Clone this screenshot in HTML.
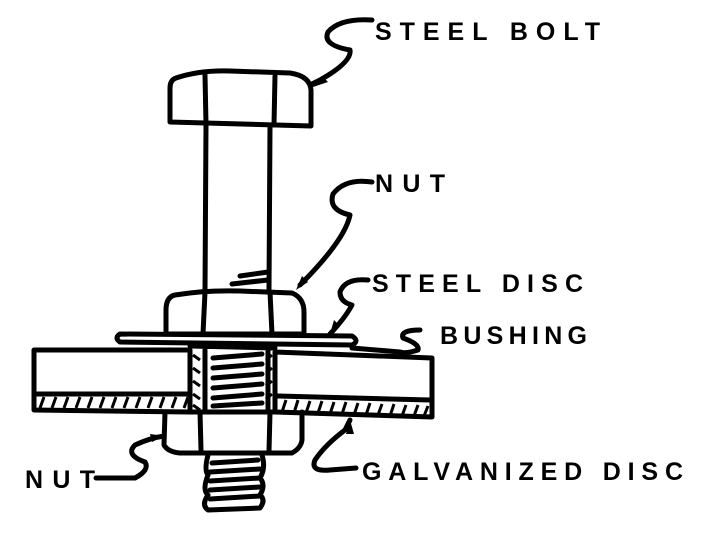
<!DOCTYPE html>
<html><head><style>
html,body{margin:0;padding:0;background:#fff;}
svg{display:block;}
text{font-family:"Liberation Sans",sans-serif;font-weight:bold;font-size:25px;fill:#000;}
</style></head><body>
<svg width="704" height="534" viewBox="0 0 704 534" xmlns="http://www.w3.org/2000/svg">
<g fill="none" stroke="#000" stroke-width="5" stroke-linejoin="round" stroke-linecap="round">
<!-- bolt head -->
<path d="M176,78 Q200,70 230,71 L290,73 Q310,76 311,90 L311,126 L170,122 L170,88 Q170,80 176,78 Z"/>
<path d="M205,75 L206,124 M275,76 L274,125"/>
<!-- shank -->
<path d="M206,125 L205,292 M270,126 L269,290"/>
<path d="M240,276 L268,272 M232,284 L268,280"/>
<!-- upper nut -->
<path d="M175,295 Q205,290 240,291 L292,293 Q304,298 304,312 L304,334 L166,334 L166,310 Q166,297 175,295 Z"/>
<path d="M205,292 L203,334 M270,292 L272,334"/>
<!-- steel disc -->
<path d="M120,334 L352,336 Q360,341 352,345 L120,342 Q114,338 120,334 Z"/>
<!-- plate left -->
<path d="M34,350 L190,350 L190,412 L34,410 Z"/>
<path d="M37,394 L188,394"/>
<!-- plate right -->
<path d="M275,352 L432,358 L432,417 L275,412 Z"/>
<path d="M278,396 L430,400"/>
<!-- bushing -->
<path d="M190,346 L275,348 M190,412 L275,412 M205,350 L205,410 M268,350 L268,410"/>
<path d="M213,358 L262,354 M213,368 L262,364 M213,378 L262,374 M213,388 L262,384 M213,398 L262,394 M213,406 L262,403"/>
<!-- lower nut -->
<path d="M165,412 L164,445 Q168,452 180,453 L292,453 Q301,448 302,440 L302,412"/>
<path d="M200,412 L201,450 M270,412 L269,451"/>
<!-- bolt end -->
<path d="M208,455 Q204,470 208,475 Q202,490 208,495 Q201,505 208,510 L260,508 Q266,500 260,495 Q266,485 260,478 Q266,468 262,455"/>
<path d="M212,463 L258,460 M210,472 L260,469 M210,481 L260,478 M210,490 L260,487 M210,499 L260,496"/>
<!-- leaders -->
<path d="M372,20 Q340,18 328,32 Q322,45 350,50 Q352,62 320,80 L312,84"/>
<path d="M372,182 Q345,178 333,194 Q328,210 350,215 Q345,240 300,285"/>
<path d="M368,280 Q345,278 340,292 Q340,302 352,305 Q345,318 330,334"/>
<path d="M420,330 Q400,330 403,338 Q420,344 418,350 Q405,354 400,352 L352,348"/>
<path d="M96,478 L135,478 Q150,470 145,462 Q125,455 135,445 Q150,438 164,436"/>
<path d="M356,468 L330,470 Q310,472 315,460 Q325,445 345,430 L350,420"/>
</g>
<!-- hatch -->
<g stroke="#000" stroke-width="3">
<path d="M40,408 L44,397 M52,408 L56,397 M64,408 L68,397 M76,408 L80,397 M88,408 L92,397 M100,408 L104,397 M112,408 L116,397 M124,408 L128,397 M136,408 L140,397 M148,408 L152,397 M160,408 L164,397 M172,408 L176,397 M184,408 L188,397"/>
<path d="M282,412 L286,400 M294,413 L298,400 M306,413 L310,401 M318,413 L322,401 M330,414 L334,402 M342,414 L346,402 M354,415 L358,403 M366,415 L370,403 M378,415 L382,404 M390,416 L394,404 M402,416 L406,405 M414,416 L418,405 M424,416 L428,406"/>
<path d="M193,355 L200,360 M193,368 L200,373 M193,381 L200,386 M193,394 L200,399 M193,405 L200,410 M272,355 L266,360 M272,368 L266,373 M272,381 L266,386 M272,394 L266,399"/>
</g>
<g fill="#000">
<polygon points="310,88 322,76 328,82"/>
<polygon points="296,290 302,276 308,282"/>
<polygon points="330,334 334,320 340,326"/>
<polygon points="350,420 346,434 354,434"/>
<polygon points="164,436 150,434 152,442"/>
</g>
<text x="375" y="40" textLength="225" lengthAdjust="spacing">STEEL BOLT</text>
<text x="375" y="192" textLength="70" lengthAdjust="spacing">NUT</text>
<text x="372" y="292" textLength="211" lengthAdjust="spacing">STEEL DISC</text>
<text x="440" y="344" textLength="147" lengthAdjust="spacing">BUSHING</text>
<text x="25" y="488" textLength="70" lengthAdjust="spacing">NUT</text>
<text x="362" y="480" textLength="321" lengthAdjust="spacing">GALVANIZED DISC</text>
</svg>
</body></html>
